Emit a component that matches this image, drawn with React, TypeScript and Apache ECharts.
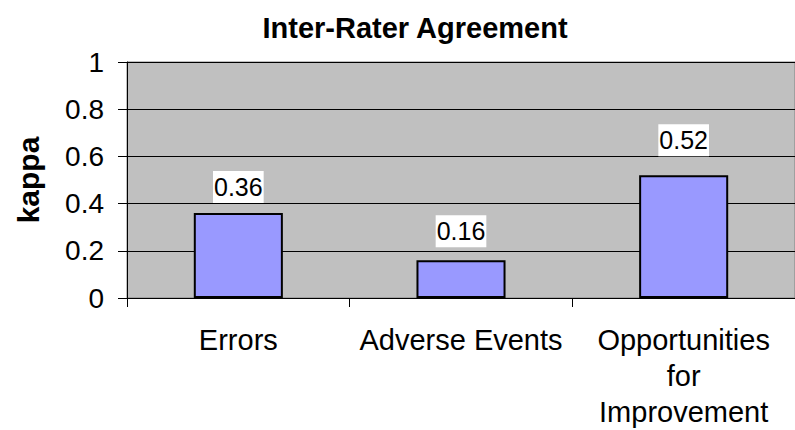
import React, { useEffect, useRef } from "react";
import * as echarts from "echarts";

const categories = ["Errors", "Adverse Events", "Opportunities\nfor\nImprovement"];
const kappaValues = [0.36, 0.16, 0.52];
const yTicks = { min: 0, max: 1, interval: 0.2 };
const labelGaps = [10, 13, 19];

const FONT = "Liberation Sans, Arial, sans-serif";

export default function App() {
  const ref = useRef<HTMLDivElement>(null);
  useEffect(() => {
    if (!ref.current) return;
    const chart = echarts.init(ref.current, null, { renderer: "svg" });
    chart.setOption({
      animation: false,
      backgroundColor: "#ffffff",
      title: {
        text: "Inter-Rater Agreement",
        left: 410,
        textAlign: "center",
        top: 8,
        textStyle: {
          fontFamily: FONT,
          fontSize: 29,
          fontWeight: "bold",
          color: "#000",
          lineHeight: 30,
        },
      },
      grid: {
        left: 127,
        right: 0,
        top: 62,
        bottom: 129,
        show: true,
        backgroundColor: "#C0C0C0",
        borderColor: "#808080",
        borderWidth: 1,
      },
      xAxis: {
        type: "category",
        data: categories,
        axisLine: { show: true, lineStyle: { color: "#000", width: 1 } },
        axisTick: { show: true, length: 9, lineStyle: { color: "#000" } },
        axisLabel: {
          fontFamily: FONT,
          fontSize: 29,
          lineHeight: 36,
          color: "#000",
          margin: 24,
          interval: 0,
          align: "center",
        },
        splitLine: { show: false },
      },
      yAxis: {
        type: "value",
        min: yTicks.min,
        max: yTicks.max,
        interval: yTicks.interval,
        name: "kappa",
        nameLocation: "middle",
        nameRotate: 90,
        nameGap: 84,
        nameTextStyle: {
          fontFamily: FONT,
          fontSize: 30,
          fontWeight: "bold",
          color: "#000",
        },
        axisLine: { show: true, lineStyle: { color: "#000", width: 1 } },
        axisTick: { show: true, length: 9, lineStyle: { color: "#000" } },
        axisLabel: {
          fontFamily: FONT,
          fontSize: 28,
          color: "#000",
          margin: 23,
        },
        splitLine: { show: true, lineStyle: { color: "#000", width: 1 } },
      },
      series: [
        {
          type: "bar",
          barWidth: "40%",
          data: kappaValues.map((v, i) => ({
            value: v,
            label: { distance: labelGaps[i] },
          })),
          itemStyle: {
            color: "#9999FF",
            borderColor: "#000",
            borderWidth: 2,
          },
          label: {
            show: true,
            position: "top",
            fontFamily: FONT,
            fontSize: 25,
            lineHeight: 30,
            color: "#000",
            backgroundColor: "#ffffff",
            padding: [1, 1, 1, 1],
          },
        },
      ],
    });
    return () => chart.dispose();
  }, []);
  return (
    <div
      ref={ref}
      style={{ position: "fixed", left: 0, top: 0, width: 795, height: 430 }}
    />
  );
}
